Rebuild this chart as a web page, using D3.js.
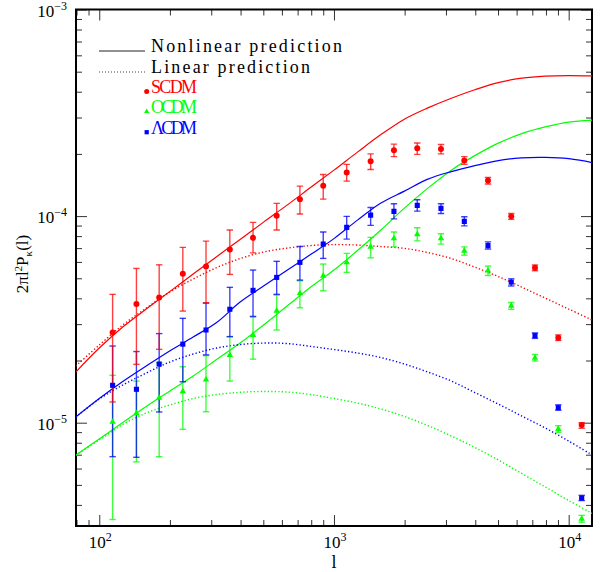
<!DOCTYPE html>
<html>
<head>
<meta charset="utf-8">
<script src="https://cdn.jsdelivr.net/npm/d3@7"></script>
<style>
  body { margin: 0; background: #fff; }
  svg { display: block; font-family: "Liberation Serif", "DejaVu Serif", serif; }
</style>
</head>
<body>
<svg id="chart" width="603" height="572"></svg>
<script>
// multipole bins of the measured points
var ells = [114, 144, 180, 227, 285, 360, 452, 570, 716, 900, 1133, 1433, 1801, 2264,
            2857, 3592, 4531, 5693, 7185, 9031, 11360];

var scdm   = [2.73e-5, 3.75e-5, 4.04e-5, 5.26e-5, 5.71e-5, 6.90e-5, 7.85e-5, 1.003e-4, 1.208e-4, 1.402e-4,
              1.627e-4, 1.845e-4, 2.085e-4, 2.13e-4, 2.11e-4, 1.86e-4, 1.488e-4, 9.97e-5, 5.62e-5, 2.58e-5, 9.75e-6];
var scdmHi = [4.18e-5, 5.58e-5, 5.81e-5, 7.06e-5, 7.57e-5, 8.56e-5, 9.32e-5, 1.152e-4, 1.397e-4, 1.59e-4,
              1.78e-4, 2.0e-4, 2.23e-4, 2.26e-4, 2.22e-4, 1.94e-4, 1.54e-4, 1.03e-4, 5.8e-5, 2.66e-5, 1.0e-5];
var scdmLo = [1.26e-5, 1.916e-5, 2.265e-5, 3.47e-5, 3.81e-5, 5.22e-5, 6.64e-5, 8.56e-5, 1.023e-4, 1.208e-4,
              1.476e-4, 1.68e-4, 1.94e-4, 1.99e-4, 2.0e-4, 1.78e-4, 1.43e-4, 9.64e-5, 5.44e-5, 2.5e-5, 9.4e-6];

var ocdm   = [1.008e-5, 1.11e-5, 1.317e-5, 1.419e-5, 1.614e-5, 2.126e-5, 2.656e-5, 3.48e-5, 4.23e-5, 5.14e-5,
              5.97e-5, 7.10e-5, 7.80e-5, 8.16e-5, 7.80e-5, 6.79e-5, 5.44e-5, 3.68e-5, 2.06e-5, 9.32e-6, 3.42e-6];
var ocdmHi = [1.696e-5, 1.59e-5, 1.95e-5, 1.866e-5, 2.11e-5, 2.61e-5, 3.245e-5, 4.15e-5, 4.86e-5, 5.86e-5,
              6.60e-5, 7.89e-5, 8.37e-5, 8.78e-5, 8.21e-5, 7.10e-5, 5.73e-5, 3.82e-5, 2.14e-5, 9.67e-6, 3.56e-6];
var ocdmLo = [3.40e-6, 6.46e-6, 6.85e-6, 9.29e-6, 1.13e-5, 1.59e-5, 2.03e-5, 2.81e-5, 3.60e-5, 4.35e-5,
              5.34e-5, 6.28e-5, 7.10e-5, 7.59e-5, 7.32e-5, 6.47e-5, 5.16e-5, 3.54e-5, 1.99e-5, 8.99e-6, 3.30e-6];

var lcdm   = [1.517e-5, 1.451e-5, 1.923e-5, 2.40e-5, 2.81e-5, 3.54e-5, 4.37e-5, 5.05e-5, 5.97e-5, 7.32e-5,
              8.817e-5, 1.011e-4, 1.054e-4, 1.127e-4, 1.09e-4, 9.43e-5, 7.21e-5, 4.79e-5, 2.64e-5, 1.182e-5, 4.32e-6];
var lcdmHi = [2.35e-5, 2.21e-5, 2.70e-5, 3.20e-5, 3.79e-5, 4.52e-5, 5.48e-5, 6.04e-5, 7.13e-5, 8.37e-5,
              9.97e-5, 1.10e-4, 1.147e-4, 1.199e-4, 1.147e-4, 9.92e-5, 7.5e-5, 4.97e-5, 2.72e-5, 1.22e-5, 4.45e-6];
var lcdmLo = [6.85e-6, 6.8e-6, 1.127e-5, 1.578e-5, 2.13e-5, 2.61e-5, 3.27e-5, 4.18e-5, 4.90e-5, 6.24e-5,
              7.74e-5, 9.02e-5, 9.7e-5, 1.057e-4, 1.03e-4, 8.97e-5, 6.93e-5, 4.59e-5, 2.56e-5, 1.15e-5, 4.20e-6];

// model curves, sampled every 0.1 dex in l
var ellCurve = [79.4, 100, 125.9, 158.5, 199.5, 251.2, 316.2, 398.1, 501.2, 631, 794.3, 1000,
                1259, 1585, 1995, 2512, 3162, 3981, 5012, 6310, 7943, 10000, 12589];
var scdmNL  = [1.759e-5, 2.298e-5, 2.904e-5, 3.548e-5, 4.31e-5, 5.24e-5, 6.36e-5, 7.70e-5, 9.35e-5, 1.130e-4,
               1.374e-4, 1.669e-4, 2.04e-4, 2.48e-4, 2.946e-4, 3.34e-4, 3.72e-4, 4.09e-4, 4.43e-4, 4.65e-4,
               4.76e-4, 4.79e-4, 4.77e-4];
var scdmLin = [1.880e-5, 2.376e-5, 2.970e-5, 3.588e-5, 4.29e-5, 4.96e-5, 5.63e-5, 6.23e-5, 6.70e-5, 7.00e-5,
               7.20e-5, 7.28e-5, 7.24e-5, 7.12e-5, 6.98e-5, 6.66e-5, 6.23e-5, 5.66e-5, 5.10e-5, 4.53e-5,
               4.01e-5, 3.55e-5, 3.14e-5];
var ocdmNL  = [6.96e-6, 8.34e-6, 1.002e-5, 1.198e-5, 1.421e-5, 1.682e-5, 2.022e-5, 2.429e-5, 2.970e-5, 3.669e-5,
               4.52e-5, 5.48e-5, 6.81e-5, 8.56e-5, 1.093e-4, 1.366e-4, 1.669e-4, 1.962e-4, 2.255e-4, 2.507e-4,
               2.701e-4, 2.85e-4, 2.914e-4];
var ocdmLin = [6.96e-6, 8.25e-6, 9.80e-6, 1.114e-5, 1.218e-5, 1.309e-5, 1.369e-5, 1.403e-5, 1.416e-5, 1.408e-5,
               1.369e-5, 1.309e-5, 1.245e-5, 1.165e-5, 1.072e-5, 9.69e-6, 8.62e-6, 7.59e-6, 6.60e-6, 5.68e-6,
               4.89e-6, 4.20e-6, 3.64e-6];
var lcdmNL  = [1.065e-5, 1.309e-5, 1.582e-5, 1.880e-5, 2.223e-5, 2.598e-5, 3.053e-5, 3.836e-5, 4.585e-5, 5.467e-5,
               6.51e-5, 7.78e-5, 9.56e-5, 1.156e-4, 1.321e-4, 1.510e-4, 1.642e-4, 1.755e-4, 1.856e-4, 1.913e-4,
               1.923e-4, 1.897e-4, 1.815e-4];
var lcdmLin = [1.065e-5, 1.302e-5, 1.522e-5, 1.739e-5, 1.966e-5, 2.150e-5, 2.298e-5, 2.389e-5, 2.429e-5, 2.416e-5,
               2.342e-5, 2.260e-5, 2.174e-5, 2.067e-5, 1.923e-5, 1.759e-5, 1.591e-5, 1.400e-5, 1.231e-5, 1.077e-5,
               9.43e-6, 8.15e-6, 6.98e-6];

var xMajor = [100, 1000, 10000];
var xMajorExp = ['2', '3', '4'];
var yMajor = [1e-5, 1e-4, 1e-3];
var yMajorExp = ['\u22125', '\u22124', '\u22123'];

var RED = '#ff0000', GREEN = '#00ff00', BLUE = '#0000ff';

var svg = d3.select('#chart');
// plot frame (window.top is read-only, so keep these in an object)
var frame = { left: 76, right: 592, top: 9.5, bottom: 526 };

var x = d3.scaleLog().domain([79.6, 12570]).range([frame.left, frame.right]);
var y = d3.scaleLog().domain([Math.pow(10, -5.5), 1e-3]).range([frame.bottom, frame.top]);

svg.append('defs').append('clipPath').attr('id', 'plotclip')
  .append('rect').attr('x', frame.left).attr('y', frame.top)
  .attr('width', frame.right - frame.left).attr('height', frame.bottom - frame.top);

// minor tick values 2..9 per decade
function minorTicks(domain) {
  var out = [];
  var lo = Math.floor(Math.log10(domain[0])), hi = Math.ceil(Math.log10(domain[1]));
  for (var e = lo; e <= hi; e++) {
    for (var m = 2; m <= 9; m++) {
      var v = m * Math.pow(10, e);
      if (v >= domain[0] && v <= domain[1]) out.push(v);
    }
  }
  return out;
}
var xMinor = minorTicks(x.domain());
var yMinor = minorTicks(y.domain());

// ticks on all four sides, pointing inward
function tickAxis(axisFn, scale, values, size, transform) {
  var g = svg.append('g').attr('transform', transform)
    .call(axisFn(scale).tickValues(values).tickSize(size).tickFormat(''));
  g.select('.domain').remove();
  g.selectAll('.tick line').attr('stroke', '#333').attr('stroke-width', 1);
  return g;
}
tickAxis(d3.axisBottom, x, xMajor, -11, 'translate(0,' + frame.bottom + ')');
tickAxis(d3.axisBottom, x, xMinor, -6, 'translate(0,' + frame.bottom + ')');
tickAxis(d3.axisTop, x, xMajor, -11, 'translate(0,' + frame.top + ')');
tickAxis(d3.axisTop, x, xMinor, -6, 'translate(0,' + frame.top + ')');
tickAxis(d3.axisLeft, y, yMajor, -11, 'translate(' + frame.left + ',0)');
tickAxis(d3.axisLeft, y, yMinor, -6, 'translate(' + frame.left + ',0)');
tickAxis(d3.axisRight, y, yMajor, -11, 'translate(' + frame.right + ',0)');
tickAxis(d3.axisRight, y, yMinor, -6, 'translate(' + frame.right + ',0)');

svg.append('rect')
  .attr('x', frame.left).attr('y', frame.top)
  .attr('width', frame.right - frame.left).attr('height', frame.bottom - frame.top)
  .attr('fill', 'none').attr('stroke', '#000').attr('stroke-width', 2);

// tick labels
xMajor.forEach(function(v, i) {
  var t = svg.append('text')
    .attr('x', x(v) + 1).attr('y', 548)
    .attr('text-anchor', 'middle')
    .attr('font-size', 17);
  t.append('tspan').text('10');
  t.append('tspan').attr('dy', -7).attr('font-size', 12).text(xMajorExp[i]);
});
yMajor.forEach(function(v, i) {
  var t = svg.append('text')
    .attr('x', 67).attr('y', y(v) + 7)
    .attr('text-anchor', 'end')
    .attr('font-size', 17);
  t.append('tspan').text('10');
  t.append('tspan').attr('dy', -7).attr('font-size', 12).text(yMajorExp[i]);
});

svg.append('text')
  .attr('x', 334).attr('y', 568)
  .attr('text-anchor', 'middle').attr('font-size', 18)
  .text('l');

var ylab = svg.append('text')
  .attr('transform', 'translate(28,264) rotate(-90)')
  .attr('text-anchor', 'middle')
  .attr('font-size', 17);
ylab.append('tspan').text('2\u03c0l');
ylab.append('tspan').attr('dy', -6).attr('font-size', 11).text('2');
ylab.append('tspan').attr('dy', 6).text('P');
ylab.append('tspan').attr('dy', 4).attr('font-size', 11).text('\u03ba');
ylab.append('tspan').attr('dy', -4).text('(l)');

// model curves
var plot = svg.append('g').attr('clip-path', 'url(#plotclip)');
var line = d3.line()
  .x(function(d) { return x(d[0]); })
  .y(function(d) { return y(d[1]); })
  .curve(d3.curveCatmullRom.alpha(0.5));

var curves = [
  { v: scdmNL, c: RED, dash: null },
  { v: scdmLin, c: RED, dash: '1.3,2.2' },
  { v: ocdmNL, c: GREEN, dash: null },
  { v: ocdmLin, c: GREEN, dash: '1.3,2.2' },
  { v: lcdmNL, c: BLUE, dash: null },
  { v: lcdmLin, c: BLUE, dash: '1.3,2.2' }
];
curves.forEach(function(cv) {
  plot.append('path')
    .datum(d3.zip(ellCurve, cv.v))
    .attr('d', line)
    .attr('fill', 'none')
    .attr('stroke', cv.c)
    .attr('stroke-width', cv.dash ? 1.4 : 1.2)
    .attr('stroke-dasharray', cv.dash);
});

// measured points: error bars of all models first, markers on top
var series = [
  { v: ocdm, lo: ocdmLo, hi: ocdmHi, c: GREEN, sym: d3.symbolTriangle, size: 18 },
  { v: lcdm, lo: lcdmLo, hi: lcdmHi, c: BLUE, sym: d3.symbolSquare, size: 26 },
  { v: scdm, lo: scdmLo, hi: scdmHi, c: RED, sym: d3.symbolCircle, size: 28 }
];
var cap = 3.2;
series.forEach(function(s) {
  s.pts = ells.map(function(l, i) { return { l: l, v: s.v[i], lo: s.lo[i], hi: s.hi[i] }; });
  var g = plot.append('g').attr('stroke', s.c).attr('stroke-width', 1.4).attr('stroke-opacity', 0.75);
  var eb = g.selectAll('g.eb').data(s.pts).enter().append('g').attr('class', 'eb');
  eb.append('line')
    .attr('x1', function(d) { return x(d.l); }).attr('x2', function(d) { return x(d.l); })
    .attr('y1', function(d) { return y(d.lo); }).attr('y2', function(d) { return y(d.hi); });
  eb.append('line')
    .attr('x1', function(d) { return x(d.l) - cap; }).attr('x2', function(d) { return x(d.l) + cap; })
    .attr('y1', function(d) { return y(d.lo); }).attr('y2', function(d) { return y(d.lo); });
  eb.append('line')
    .attr('x1', function(d) { return x(d.l) - cap; }).attr('x2', function(d) { return x(d.l) + cap; })
    .attr('y1', function(d) { return y(d.hi); }).attr('y2', function(d) { return y(d.hi); });
});
series.forEach(function(s) {
  plot.append('g').selectAll('path').data(s.pts).enter().append('path')
    .attr('transform', function(d) { return 'translate(' + x(d.l) + ',' + y(d.v) + ')'; })
    .attr('d', d3.symbol().type(s.sym).size(s.size))
    .attr('fill', s.c);
});

// legend
var lg = svg.append('g');
lg.append('line').attr('x1', 99).attr('x2', 145).attr('y1', 51).attr('y2', 51)
  .attr('stroke', '#222').attr('stroke-width', 1.2);
lg.append('line').attr('x1', 99).attr('x2', 145).attr('y1', 72).attr('y2', 72)
  .attr('stroke', '#444').attr('stroke-width', 1.2).attr('stroke-dasharray', '1,2');
lg.append('text').attr('x', 151).attr('y', 52).attr('font-size', 18)
  .attr('textLength', 191).attr('lengthAdjust', 'spacing').text('Nonlinear prediction');
lg.append('text').attr('x', 151).attr('y', 72.5).attr('font-size', 18)
  .attr('textLength', 159).attr('lengthAdjust', 'spacing').text('Linear prediction');

var legendModels = [
  { name: 'SCDM', c: RED, sym: d3.symbolCircle, size: 20, y: 93.3 },
  { name: 'OCDM', c: GREEN, sym: d3.symbolTriangle, size: 12, y: 113.3 },
  { name: '\u039bCDM', c: BLUE, sym: d3.symbolSquare, size: 18, y: 134 }
];
legendModels.forEach(function(m) {
  lg.append('path')
    .attr('transform', 'translate(146.7,' + (m.y - 1.8) + ')')
    .attr('d', d3.symbol().type(m.sym).size(m.size))
    .attr('fill', m.c);
  lg.append('text').attr('x', 151).attr('y', m.y).attr('font-size', 18)
    .attr('fill', m.c).attr('textLength', 46).attr('lengthAdjust', 'spacing').text(m.name);
});
</script>
</body>
</html>
